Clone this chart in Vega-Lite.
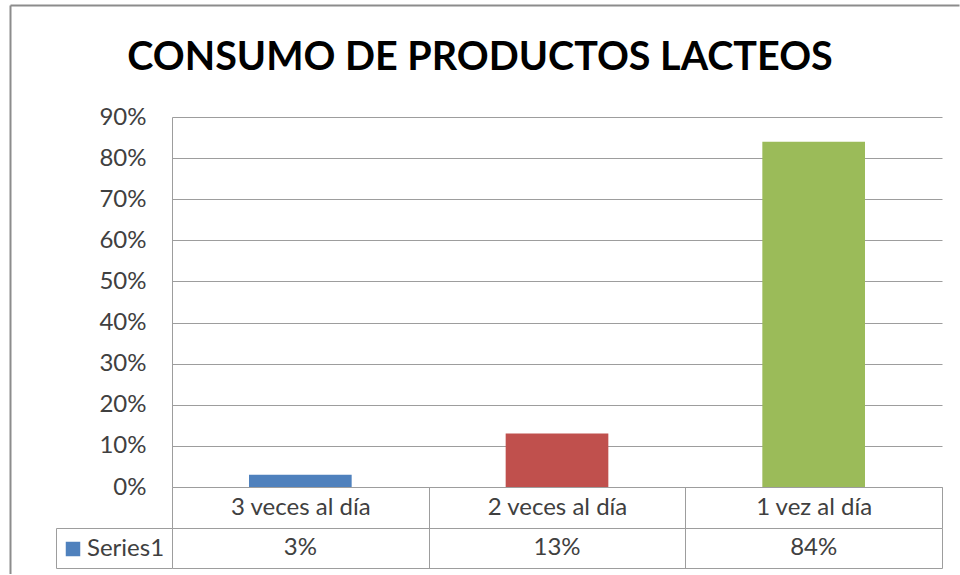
{
  "$schema": "https://vega.github.io/schema/vega-lite/v6.json",
  "background": "white",
  "padding": {"left": 10, "top": 5, "right": 0, "bottom": 0},
  "datasets": {
    "consumo": [
      {"frecuencia": "3 veces al día", "porcentaje": 0.03, "serie": "Series1"},
      {"frecuencia": "2 veces al día", "porcentaje": 0.13, "serie": "Series1"},
      {"frecuencia": "1 vez al día", "porcentaje": 0.84, "serie": "Series1"}
    ]
  },
  "spacing": 41,
  "bounds": "flush",
  "resolve": {"scale": {"x": "independent", "y": "independent", "color": "independent", "fill": "independent"}},
  "vconcat": [
    {
      "width": 616,
      "height": 71,
      "title": {"text": "CONSUMO DE PRODUCTOS LACTEOS", "font": "Lato", "fontSize": 39.5, "fontWeight": "bold", "color": "#000000", "anchor": "middle", "frame": "group", "offset": -73},
      "data": {"values": []},
      "mark": {"type": "point", "opacity": 0},
      "encoding": {
        "x": {"field": "marco_x", "type": "quantitative",
          "scale": {"domain": [0, 1], "range": [-162, 787]},
          "axis": {"orient": "top", "title": null, "labels": false, "ticks": false, "grid": false, "domain": true, "domainColor": "#8c8c8c", "domainWidth": 2, "offset": 0}},
        "y": {"field": "marco_y", "type": "quantitative",
          "scale": {"domain": [0, 1], "range": [0, 569]},
          "axis": {"title": null, "labels": false, "ticks": false, "grid": false, "domain": true, "domainColor": "#8c8c8c", "domainWidth": 2, "offset": 162}}
      }
    },
    {
      "width": 770,
      "height": 370,
      "data": {"name": "consumo"},
      "mark": {"type": "bar", "width": {"band": 0.4}},
      "encoding": {
        "x": {"field": "frecuencia", "type": "nominal", "sort": null,
          "scale": {"paddingInner": 0, "paddingOuter": 0},
          "axis": {"title": null, "ticks": true, "tickBand": "extent", "tickSize": 41, "labelAngle": 0, "labelBaseline": "middle", "labelPadding": -21, "grid": false}},
        "y": {"field": "porcentaje", "type": "quantitative",
          "scale": {"domain": [0, 0.9], "nice": false},
          "axis": {"title": null, "format": ".0%", "values": [0, 0.1, 0.2, 0.3, 0.4, 0.5, 0.6, 0.7, 0.8, 0.9], "ticks": false, "labelPadding": 26, "grid": true}},
        "color": {"field": "frecuencia", "type": "nominal", "sort": null,
          "scale": {"domain": ["3 veces al día", "2 veces al día", "1 vez al día"], "range": ["#4F81BD", "#C0504D", "#9BBB59"]},
          "legend": null}
      }
    },
    {
      "width": 770,
      "height": 40,
      "data": {"name": "consumo"},
      "layer": [
        {
          "mark": {"type": "text", "font": "Lato", "fontSize": 24, "color": "#404040"},
          "encoding": {
            "x": {"field": "frecuencia", "type": "nominal", "sort": null,
              "scale": {"paddingInner": 0, "paddingOuter": 0},
              "axis": {"title": null, "grid": true, "tickBand": "extent", "labels": false, "ticks": false, "domain": false}},
            "y": {"field": "serie", "type": "nominal",
              "scale": {"paddingInner": 0, "paddingOuter": 0},
              "axis": {"title": null, "labels": false, "offset": 116, "domain": true, "ticks": true, "tickBand": "extent", "tickSize": -116, "grid": true}},
            "text": {"field": "porcentaje", "type": "quantitative", "format": ".0%"}
          }
        },
        {
          "mark": {"type": "point", "opacity": 0, "shape": "square"},
          "encoding": {
            "x": {"field": "frecuencia", "type": "nominal", "sort": null},
            "y": {"field": "serie", "type": "nominal"},
            "fill": {"field": "serie", "type": "nominal",
              "scale": {"range": ["#4F81BD"]},
              "legend": {"orient": "none", "legendX": -111, "legendY": 9, "title": null, "symbolType": "square", "symbolSize": 210, "symbolOpacity": 1, "symbolStrokeWidth": 0, "labelFont": "Lato", "labelFontSize": 24, "labelColor": "#404040", "labelOffset": 2, "padding": 0}}
          }
        }
      ]
    }
  ],
  "config": {
    "view": {"stroke": null},
    "font": "Lato",
    "axis": {"labelFont": "Lato", "labelFontSize": 24, "labelColor": "#404040", "domainColor": "#9d9d9d", "tickColor": "#9d9d9d", "gridColor": "#9d9d9d", "gridOpacity": 1, "domainWidth": 1, "gridWidth": 1, "tickWidth": 1}
  }
}
